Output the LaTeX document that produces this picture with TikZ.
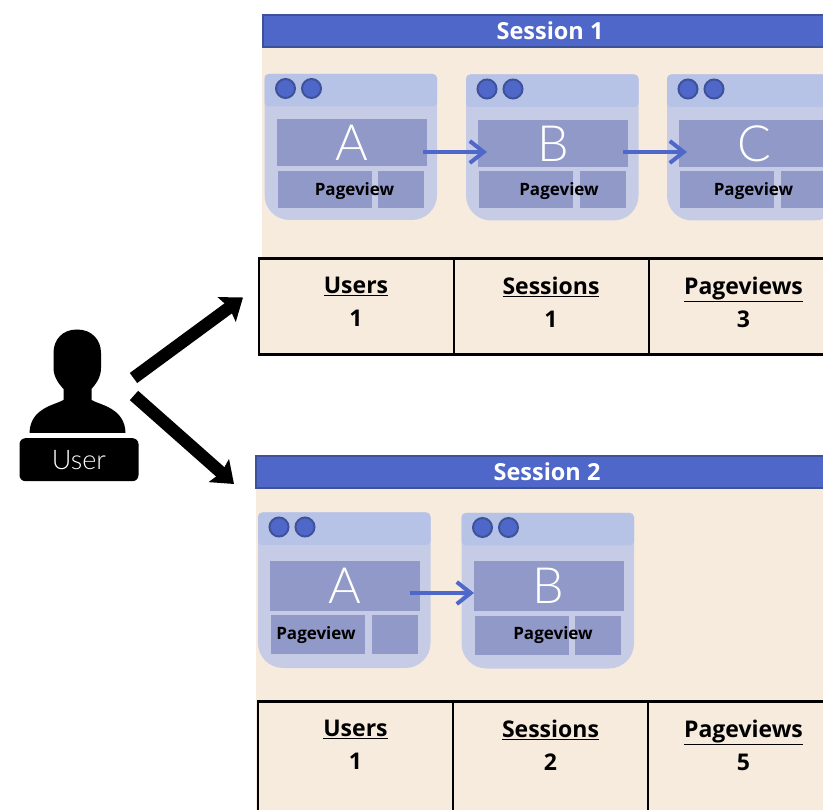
\documentclass[tikz,border=0pt]{standalone}
\usepackage{fontspec}
\setmainfont{Open Sans}
\newfontfamily\lightfont{Lato Light}
\usetikzlibrary{arrows.meta}
\definecolor{sessblue}{HTML}{4F67C8}
\definecolor{sessedge}{HTML}{3D5299}
\definecolor{beige}{HTML}{F7EBDE}
\definecolor{winbody}{HTML}{C7CCE6}
\definecolor{winbar}{HTML}{B7C2E7}
\definecolor{winpanel}{HTML}{9199C9}
\tikzset{
  header/.style={draw=sessedge,line width=2pt,fill=sessblue,text=white,inner sep=0pt},
  titletext/.style={inner sep=0pt,text=white,font=\fontsize{23.5}{26}\selectfont\bfseries},
  panel/.style={fill=winpanel,inner sep=0pt,anchor=north west},
  dot/.style={circle,draw=sessedge,line width=2pt,fill=sessblue,minimum size=19pt,inner sep=0pt},
  bigletter/.style={text=white,font=\fontsize{50}{52}\selectfont\lightfont},
  pv/.style={inner sep=0pt,font=\fontsize{17}{20}\selectfont\bfseries},
  cell/.style={draw=black,line width=2.5pt,fill=beige,anchor=north west,inner sep=0pt},
  celltext/.style={inner sep=0pt,align=center,font=\fontsize{23}{33}\selectfont\bfseries},
  flow/.style={draw=sessblue,line width=4pt,-{Straight Barb[length=14pt,width=22pt,line width=4pt]}},
  bigarrow/.style={draw=black,line width=12.5pt,-{Stealth[length=20pt,width=30pt,inset=3pt]}},
}
% id, x, y, height, main top, main height, lower top, lower height, letter
\newcommand{\webwin}[9]{%
\begin{scope}[shift={(#2,#3)}]
  \fill[winbody,rounded corners=5pt] (0,0) -- (172.5,0) [rounded corners=25pt] -- (172.5,#4) -- (0,#4) [rounded corners=5pt] -- cycle;
  \fill[winbar,rounded corners=4pt] (0,0) rectangle (172.5,32.5);
  \node[dot] (#1d1) at (21,14.5) {};
  \node[dot] (#1d2) at (47,14.5) {};
  \node[panel,minimum width=150pt,minimum height=#6pt,bigletter] (#1) at (12,#5) {#9};
  \node[panel,minimum width=94pt,minimum height=#8pt] (#1l) at (13,#7) {};
  \node[panel,minimum width=46pt,minimum height=#8pt] (#1r) at (113.5,#7) {};
\end{scope}}
\begin{document}
\begin{tikzpicture}[x=1pt,y=-1pt]
\useasboundingbox (0,0) rectangle (823,810);
\clip (0,0) rectangle (823,810);
% session 1
\fill[beige] (262,46) rectangle (830,300);
\node[header,anchor=north west,minimum width=570pt,minimum height=32pt] (s1head) at (262,14) {};
\node[titletext] (s1title) at (550,31) {Session 1};
\webwin{sa}{264.5}{74}{146}{45}{47}{97}{37}{A}
\webwin{sb}{466}{74.5}{146}{45.5}{47}{96.5}{37}{B}
\webwin{sc}{667}{74.5}{146}{45.5}{47}{96.5}{37}{C}
\node[pv] (sap) at (354.5,191) {Pageview};
\node[pv] (sbp) at (559,191) {Pageview};
\node[pv] (scp) at (753.5,191) {Pageview};
\coordinate (saout) at (423,152);
\coordinate (sbin) at (487,152);
\coordinate (sbout) at (623,152);
\coordinate (scin) at (687,152);
\draw[flow] (saout) -- (sbin);
\draw[flow] (sbout) -- (scin);
\node[cell,minimum width=195pt,minimum height=96pt] (t1a) at (257.5,257.5) {};
\node[cell,minimum width=195pt,minimum height=96pt] (t1b) at (452.5,257.5) {};
\node[cell,minimum width=195pt,minimum height=96pt] (t1c) at (647.5,257.5) {};
\node[celltext] (t1al) at (356,302) {\underline{Users}\\1};
\node[celltext] (t1bl) at (551,302) {\underline{Sessions}\\1};
\node[celltext] (t1cl) at (743.5,302) {\underline{Pageviews}\\3};
% session 2
\fill[beige] (256,487) rectangle (830,815);
\node[header,anchor=north west,minimum width=575pt,minimum height=32pt] (s2head) at (255,455) {};
\node[titletext] (s2title) at (547,472) {Session 2};
\webwin{ta}{258}{512.5}{155.5}{48.5}{50}{102.5}{39}{A}
\webwin{tb}{461.5}{513}{155.5}{48}{50}{103}{39}{B}
\node[pv] (tap) at (316,635) {Pageview};
\node[pv] (tbp) at (553,635) {Pageview};
\coordinate (taout) at (410,593);
\coordinate (tbin) at (474,593);
\draw[flow] (taout) -- (tbin);
\node[cell,minimum width=195pt,minimum height=130pt] (t2a) at (256.5,700) {};
\node[cell,minimum width=195pt,minimum height=130pt] (t2b) at (451.5,700) {};
\node[cell,minimum width=195pt,minimum height=130pt] (t2c) at (646.5,700) {};
\node[celltext] (t2al) at (355.5,745) {\underline{Users}\\1};
\node[celltext] (t2bl) at (550.5,745) {\underline{Sessions}\\2};
\node[celltext] (t2cl) at (743.5,745) {\underline{Pageviews}\\5};
% user
\fill[black] (77,329.5) .. controls (92,329.5) and (101,340) .. (101,353)
  -- (101,368) .. controls (101,378) and (95,385) .. (91.5,389)
  -- (91.5,400) .. controls (100,405) and (125,408) .. (125.5,433)
  -- (29.5,433) .. controls (30,408) and (55,405) .. (63.5,400)
  -- (63.5,389) .. controls (60,385) and (53.5,378) .. (53.5,368)
  -- (53.5,353) .. controls (53.5,340) and (62,329.5) .. (77,329.5) -- cycle;
\node[fill=black,rounded corners=6pt,minimum width=119pt,minimum height=43pt,inner sep=0pt,text=white,font=\fontsize{27}{29}\selectfont\lightfont] (user) at (79,459.7) {User};
\coordinate (uout1) at (133.5,378);
\coordinate (uin1) at (243,297.5);
\coordinate (uout2) at (134,395.5);
\coordinate (uin2) at (234,484);
\draw[bigarrow] (uout1) -- (uin1);
\draw[bigarrow] (uout2) -- (uin2);
\end{tikzpicture}
\end{document}
